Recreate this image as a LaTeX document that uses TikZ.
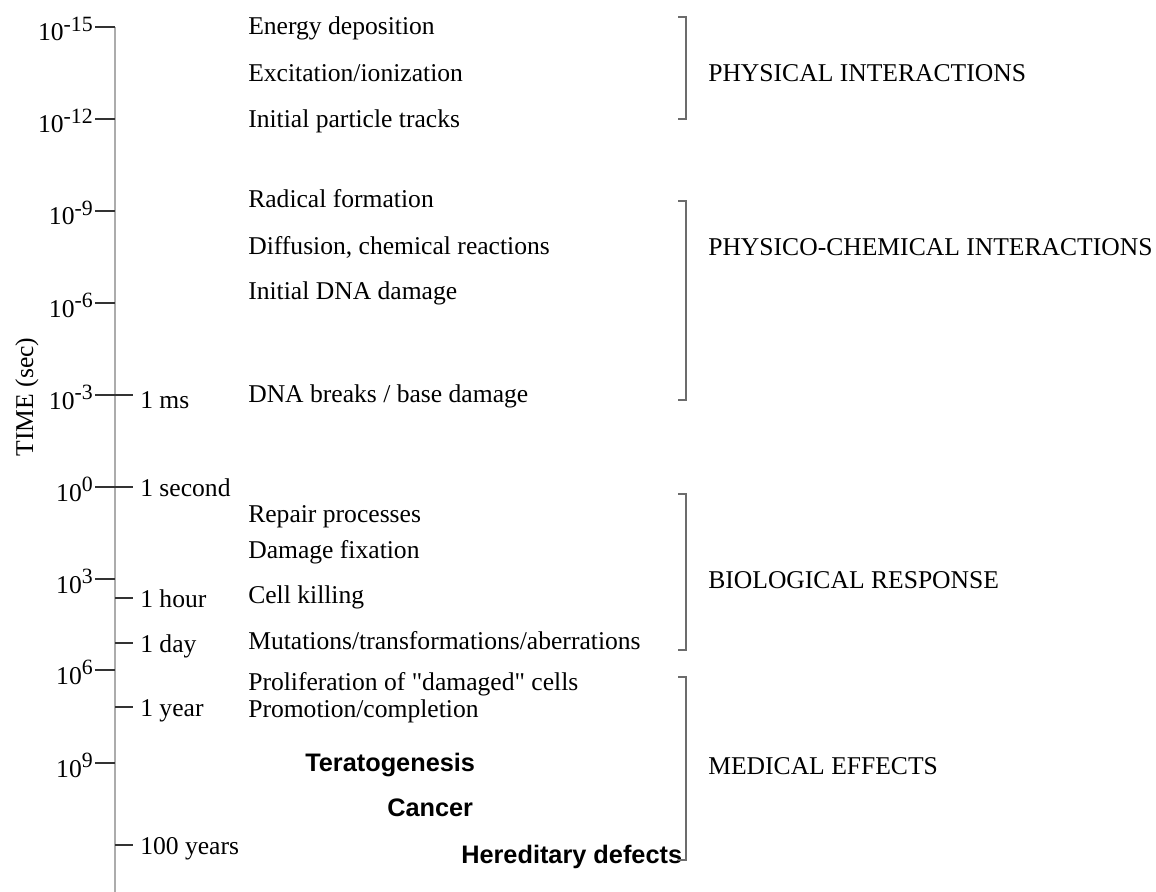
\documentclass[tikz,border=0pt]{standalone}
\usepackage{fontspec}
\setmainfont{Liberation Serif}[Ligatures=TeXOff]
\newfontfamily\effectfont{Liberation Sans}
\usepackage{tikz}
\usetikzlibrary{positioning}

% superscript of the decade labels
\newcommand\pw[1]{\raisebox{7pt}{\fontsize{15.5}{16}\selectfont#1}}

\begin{document}
\begin{tikzpicture}[
    x=0.025cm, y=-0.025cm,
    lbl/.style={font=\fontsize{18.2}{20}\selectfont, inner sep=0pt},
    event/.style={lbl, anchor=base west},
    effect/.style={font=\effectfont\bfseries\fontsize{18}{20}\selectfont, inner sep=0pt, anchor=base west},
    tickline/.style={line width=1.1pt, black!80},
    brk/.style={line width=1.3pt, gray!85!black},
    stage/.style={lbl, anchor=base west}
]

% page size of the reference
\path[use as bounding box] (0,0) rectangle (1156,892);

% time axis
\coordinate (axtop) at (115,27);
\coordinate (axbot) at (115,892);
\draw[line width=2.1pt, gray!65] (axtop) -- (axbot);
\node[lbl, rotate=90, anchor=base] (timelbl) at (33,397) {TIME (sec)};

% decades on the left
\foreach \y/\e [count=\i] in {27/-15,119/-12,211/-9,303/-6,395/-3,487/0,579/3,670/6,763/9}{
  \coordinate (dl\i) at (95,\y);
  \coordinate (dr\i) at (115,\y);
  \draw[tickline] (dl\i) -- (dr\i);
  \node[lbl, anchor=base east] (dec\i) at (93,\y+14) {10\pw{\e}};
}

% clock times on the right
\foreach \y/\t/\b [count=\i] in {395/1 ms/408, 487/1 second/496, 598/1 hour/607,
                                  643/1 day/652, 707/1 year/716, 845/100 years/854}{
  \coordinate (cl\i) at (115,\y);
  \coordinate (cr\i) at (133,\y);
  \draw[tickline] (cl\i) -- (cr\i);
  \node[event] (clk\i) at (140,\b) {\t};
}

% events
\node[event] (energy)  at (248,35)  {Energy deposition};
\node[event] (excit)   at (248,82)  {Excitation/ionization};
\node[event] (tracks)  at (248,128) {Initial particle tracks};
\node[event] (radical) at (248,208) {Radical formation};
\node[event] (diffus)  at (248,255) {Diffusion, chemical reactions};
\node[event] (initdna) at (248,300) {Initial DNA damage};
\node[event] (breaks)  at (248,402) {DNA breaks / base damage};
\node[event] (repair)  at (248,522) {Repair processes};
\node[event] (fixat)   at (248,558) {Damage fixation};
\node[event] (killing) at (248,603) {Cell killing};
\node[event] (mutat)   at (248,649) {Mutations/transformations/aberrations};
\node[event] (prolif)  at (248,690) {Proliferation of "damaged" cells};
\node[event] (promo)   at (248,717) {Promotion/completion};

% medical effects
\node[effect] (terato)  at (305,771) {Teratogenesis};
\node[effect] (cancer)  at (387,816) {Cancer};
\node[effect] (heredit) at (461,863) {Hereditary defects};

% brackets
\draw[brk] (678,17)  -- (686,17)  -- (686,119) -- (678,119);
\draw[brk] (678,201) -- (686,201) -- (686,400) -- (678,400);
\draw[brk] (678,494) -- (686,494) -- (686,650) -- (678,650);
\draw[brk] (678,677) -- (686,677) -- (686,860) -- (678,860);

% stages
\node[stage] (phys)  at (708,82)  {PHYSICAL INTERACTIONS};
\node[stage] (chem)  at (708,256) {PHYSICO-CHEMICAL INTERACTIONS};
\node[stage] (bio)   at (708,588) {BIOLOGICAL RESPONSE};
\node[stage] (med)   at (708,774) {MEDICAL EFFECTS};

\end{tikzpicture}
\end{document}
